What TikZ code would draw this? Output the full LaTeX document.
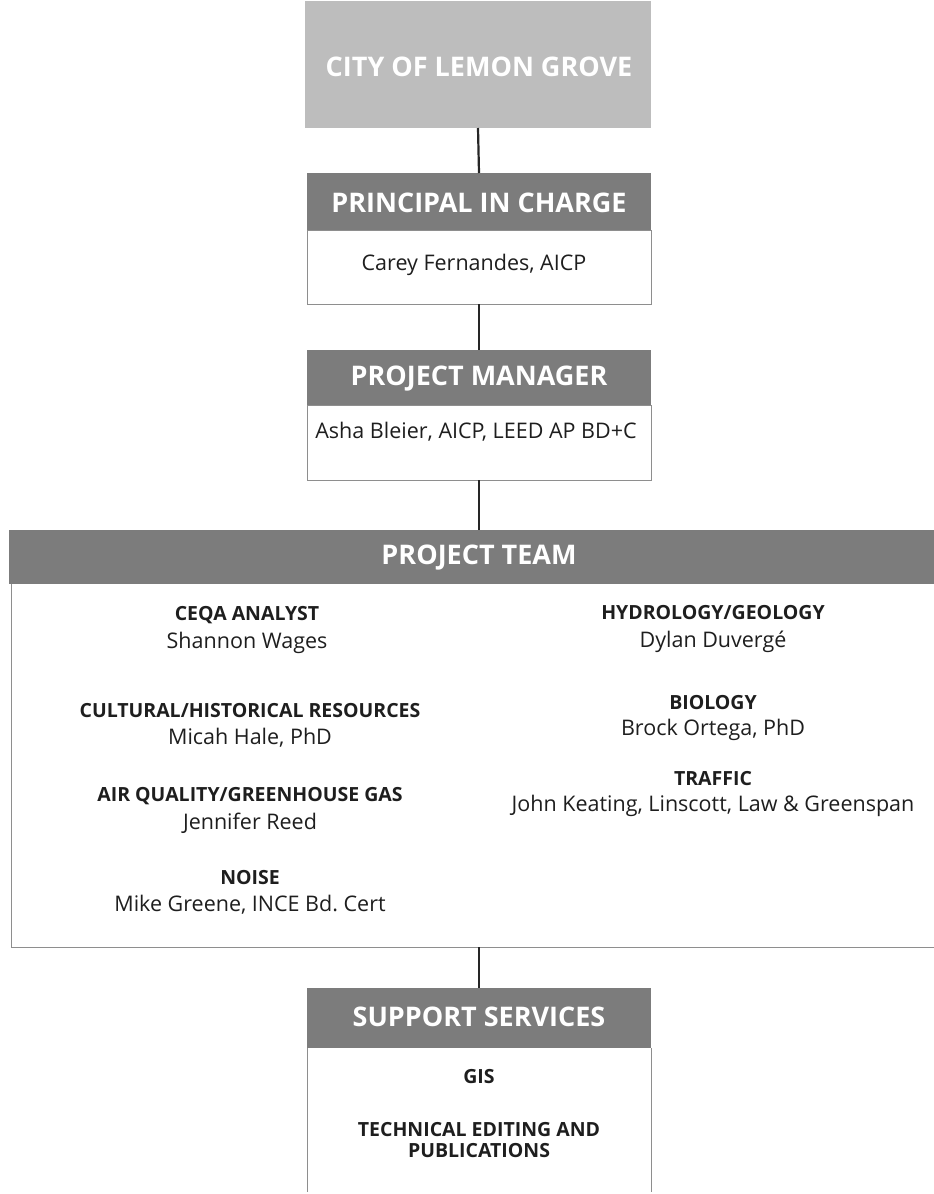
\documentclass[tikz,border=0pt]{standalone}
\usepackage{fontspec}
\setmainfont{Open Sans}
\frenchspacing
\definecolor{hdrgrey}{HTML}{7C7C7C}
\definecolor{topgrey}{HTML}{BDBDBD}
\definecolor{linegrey}{HTML}{8E8E8E}
\definecolor{txt}{HTML}{1E1E1E}
\begin{document}
\begin{tikzpicture}[x=1pt,y=-1pt,
  box/.style={anchor=north west,inner sep=0pt,outer sep=0pt},
  hdr/.style={box,fill=hdrgrey},
  hdrtxt/.style={text=white,font=\bfseries\fontsize{27}{31}\selectfont,inner sep=0pt},
  body/.style={box,draw=linegrey,line width=1pt},
  conn/.style={draw=black!85,line width=2.2pt},
  lbl/.style={text=txt,font=\bfseries\fontsize{19.5}{23}\selectfont,inner sep=0pt},
  nm/.style={text=txt,font=\fontsize{21.5}{25}\selectfont,inner sep=0pt}]
\useasboundingbox (0,0) rectangle (934,1194);
% City
\node[box,fill=topgrey,minimum width=346pt,minimum height=127pt] (city) at (305,1) {};
\node[hdrtxt] (citytxt) at (479,67) {CITY OF LEMON GROVE};
% Principal
\node[hdr,minimum width=344pt,minimum height=57pt] (pich) at (307,173) {};
\node[hdrtxt] (pictxt) at (479,203) {PRINCIPAL IN CHARGE};
\node[body,minimum width=344pt,minimum height=74pt] (picb) at (307,230) {};
\node[nm] (picname) at (474,265) {Carey Fernandes, AICP};
% Project manager
\node[hdr,minimum width=344pt,minimum height=55pt] (pmh) at (307,350) {};
\node[hdrtxt] (pmtxt) at (479,379) {PROJECT MANAGER};
\node[body,minimum width=344pt,minimum height=75pt] (pmb) at (307,405) {};
\node[nm] (pmname) at (476,432) {Asha Bleier, AICP, LEED AP BD+C};
% Project team
\node[hdr,minimum width=925pt,minimum height=54pt] (teamh) at (9,530) {};
\node[hdrtxt] (teamtxt) at (479,558) {PROJECT TEAM};
\node[box,minimum width=923pt,minimum height=363pt] (teamb) at (11,584) {};
\draw[linegrey,line width=1pt] (teamb.north west) -- (teamb.south west) -- (teamb.south east);
\coordinate (teambot) at (479,947);
% left column
\node[lbl] (l1) at (247,615) {CEQA ANALYST};
\node[nm] (n1) at (247,643) {Shannon Wages};
\node[lbl] (l2) at (250,711) {CULTURAL/HISTORICAL RESOURCES};
\node[nm] (n2) at (250,738) {Micah Hale, PhD};
\node[lbl] (l3) at (250,796) {AIR QUALITY/GREENHOUSE GAS};
\node[nm] (n3) at (250,823) {Jennifer Reed};
\node[lbl] (l4) at (250,878) {NOISE};
\node[nm] (n4) at (250,905) {Mike Greene, INCE Bd. Cert};
% right column
\node[lbl] (r1) at (713,613) {HYDROLOGY/GEOLOGY};
\node[nm] (s1) at (713,642) {Dylan Duvergé};
\node[lbl] (r2) at (713,703) {BIOLOGY};
\node[nm] (s2) at (713,730) {Brock Ortega, PhD};
\node[lbl] (r3) at (713,779) {TRAFFIC};
\node[nm] (s3) at (713,806) {John Keating, Linscott, Law \& Greenspan};
% Support services
\node[hdr,minimum width=344pt,minimum height=60pt] (suph) at (307,988) {};
\node[hdrtxt] (suptxt) at (479,1017) {SUPPORT SERVICES};
\node[box,minimum width=344pt,minimum height=144pt] (supb) at (307,1048) {};
\draw[linegrey,line width=1pt] (supb.north west) -- (supb.south west);
\draw[linegrey,line width=1pt] (supb.north east) -- (supb.south east);
\node[lbl] (g1) at (479,1077) {GIS};
\node[lbl,align=center,font=\bfseries\fontsize{19.5}{21.5}\selectfont] (g2) at (479,1140) {TECHNICAL EDITING AND\\PUBLICATIONS};
% connectors
\draw[conn] (city.south) -- (pich.north);
\draw[conn] (picb.south) -- (pmh.north);
\draw[conn] (pmb.south) -- (pmb.south |- teamh.north);
\draw[conn] (teambot) -- (suph.north);
\end{tikzpicture}
\end{document}
